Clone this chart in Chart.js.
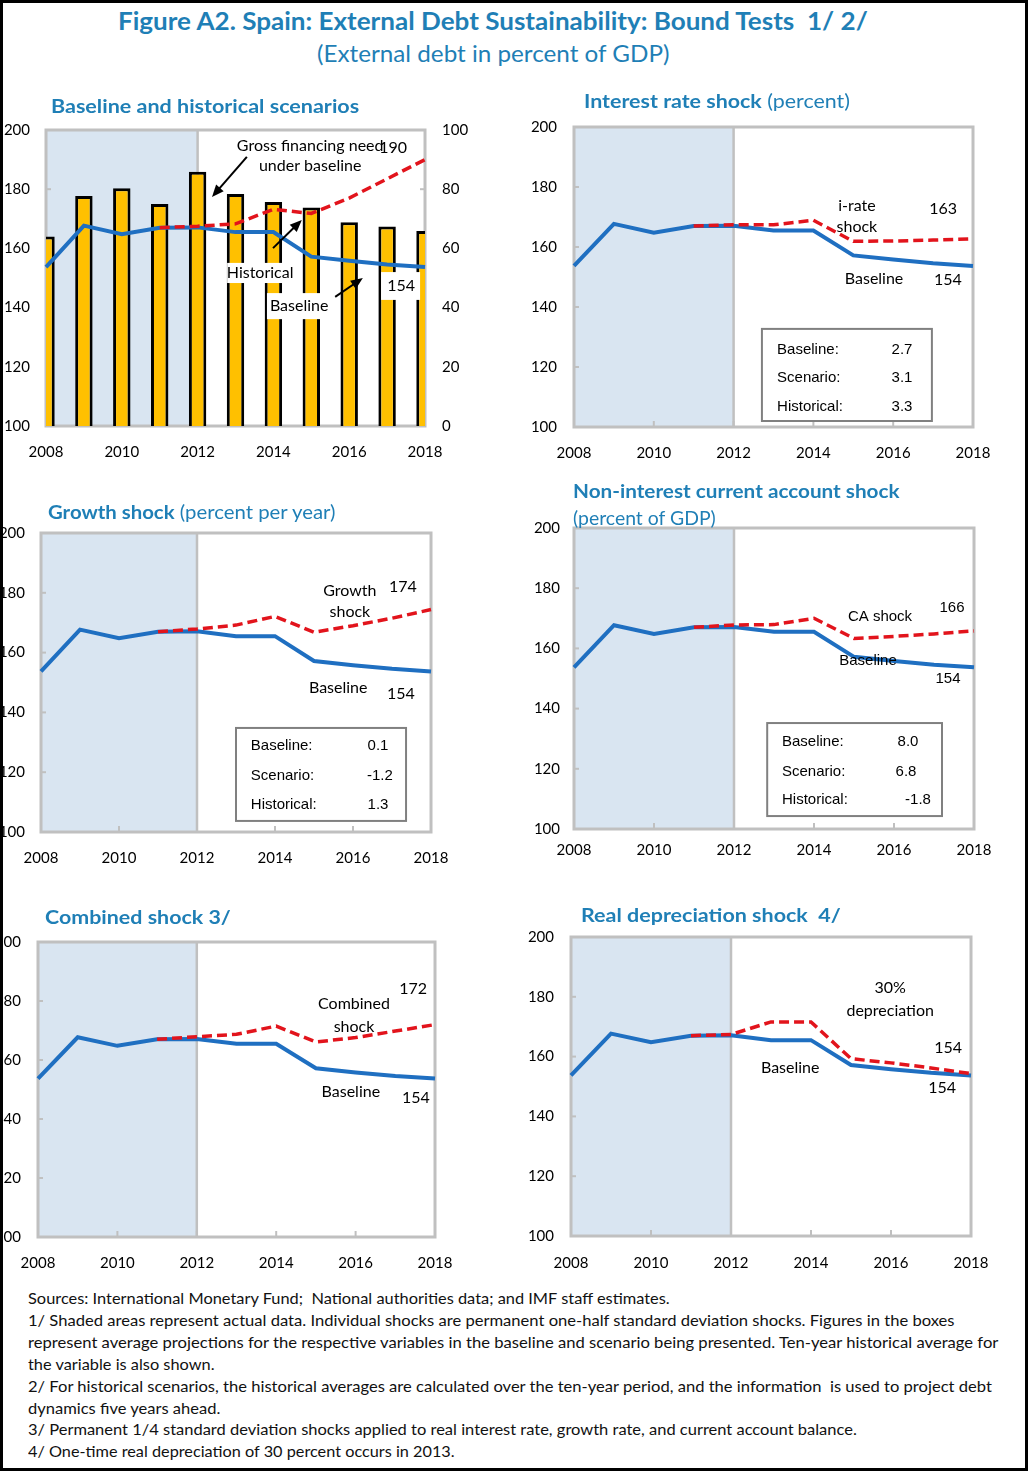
<!DOCTYPE html>
<html>
<head>
<meta charset="utf-8">
<script src="https://cdn.jsdelivr.net/npm/chart.js@4.4.1/dist/chart.umd.min.js"></script>
<style>
body { margin: 0; background: #fff; }
#page { position: relative; width: 1031px; height: 1473px; overflow: hidden; background: #fff; font-family: Lato, sans-serif; }
#frame { position: absolute; left: 0; top: 0; width: 1022px; height: 1465px; border: 3px solid #000; z-index: 5; pointer-events: none; }
canvas { position: absolute; }
.t { position: absolute; white-space: nowrap; transform-origin: 0 50%; z-index: 3; }
</style>
</head>
<body>
<div id="page"><div id="frame"></div></div>
<script>
// ---- data ----
const years = ['2008', '2009', '2010', '2011', '2012', '2013', '2014', '2015', '2016', '2017', '2018'];
const baseline = [153.7, 167.7, 164.8, 167.0, 167.1, 165.5, 165.5, 157.2, 155.8, 154.6, 153.7];
const grossFinancing = [64.0, 77.7, 80.3, 75.0, 85.9, 78.4, 75.7, 73.8, 68.8, 67.4, 65.9];
const historical = [null, null, null, 167.0, 167.5, 168.3, 173.2, 171.8, 177.0, 183.5, 190.0];
const interestShock = [null, null, null, 167.0, 167.4, 167.4, 168.9, 161.9, 162.0, 162.3, 162.7];
const growthShock = [null, null, null, 167.0, 167.9, 169.2, 172.1, 166.8, 169.0, 171.5, 174.4];
const caShock = [null, null, null, 167.0, 167.8, 167.9, 170.0, 163.3, 164.0, 164.8, 165.8];
const combinedShock = [null, null, null, 167.0, 167.9, 168.7, 171.5, 166.1, 167.6, 169.8, 172.0];
const depreciationShock = [null, null, null, 167.0, 167.4, 171.6, 171.6, 159.3, 157.9, 156.2, 154.3];

const boxLabels = ['Baseline:', 'Scenario:', 'Historical:'];
const interestBox = ['2.7', '3.1', '3.3'];
const growthBox = ['0.1', '-1.2', '1.3'];
const caBox = ['8.0', '6.8', '-1.8'];

const BLUE = '#1f6fc1', RED = '#e2141c', SHADE = '#d9e5f1', FRAME = '#c0c0c0', TITLE = '#1f7fb6';
const ANNO = '16px Lato, sans-serif', ARIAL = '15px "Liberation Sans", Arial, sans-serif';

Chart.defaults.font.family = 'Lato, sans-serif';
Chart.defaults.font.size = 15;
Chart.defaults.color = '#000';

const page = document.getElementById('page');

// year (fractional) -> pixel, via the category scale
const X = (chart, yr) => {
    const x = chart.scales.x;
    const p0 = x.getPixelForValue(0), p1 = x.getPixelForValue(1);
    return p0 + (yr - 2008) * (p1 - p0);
};
const Y = (chart, v) => chart.scales.y.getPixelForValue(v);

const line = (ctx, x1, y1, x2, y2) => {
    ctx.beginPath(); ctx.moveTo(x1, y1); ctx.lineTo(x2, y2); ctx.stroke();
};

const decor = {
    id: 'decor',
    beforeDatasetsDraw(chart, _args, o) {
        const { ctx, chartArea: a, scales } = chart;
        const xs = scales.x.getPixelForValue(o.shadeEnd);
        ctx.save();
        ctx.fillStyle = SHADE;
        ctx.fillRect(a.left, a.top, xs - a.left, a.bottom - a.top);
        ctx.strokeStyle = FRAME;
        ctx.lineWidth = 2.5;
        line(ctx, xs, a.top, xs, a.bottom);
        ctx.lineWidth = 2;
        for (let i = 2; i < years.length - 1; i += 2) {
            const px = scales.x.getPixelForValue(i);
            line(ctx, px, a.bottom, px, a.bottom - 6);
        }
        scales.y.ticks.forEach(t => {
            if (t.value > scales.y.min && t.value < scales.y.max) {
                const py = scales.y.getPixelForValue(t.value);
                line(ctx, a.left, py, a.left + 5, py);
            }
        });
        if (scales.y1) {
            scales.y1.ticks.forEach(t => {
                if (t.value > scales.y1.min && t.value < scales.y1.max) {
                    const py = scales.y1.getPixelForValue(t.value);
                    line(ctx, a.right, py, a.right - 5, py);
                }
            });
        }
        ctx.lineWidth = 3;
        ctx.strokeRect(a.left, a.top, a.right - a.left, a.bottom - a.top);
        ctx.restore();
    },
    afterDatasetsDraw(chart, _args, o) {
        const ctx = chart.ctx;
        ctx.save();
        ctx.textBaseline = 'middle';
        (o.masks || []).forEach(m => {
            ctx.fillStyle = '#fff';
            const x1 = X(chart, m.x1), x2 = X(chart, m.x2), y1 = Y(chart, m.y1), y2 = Y(chart, m.y2);
            ctx.fillRect(x1, y1, x2 - x1, y2 - y1);
        });
        (o.arrows || []).forEach(r => {
            const x1 = X(chart, r.x1), y1 = Y(chart, r.y1), x2 = X(chart, r.x2), y2 = Y(chart, r.y2);
            const ang = Math.atan2(y2 - y1, x2 - x1);
            ctx.strokeStyle = '#000'; ctx.fillStyle = '#000'; ctx.lineWidth = 2;
            line(ctx, x1, y1, x2 - 8 * Math.cos(ang), y2 - 8 * Math.sin(ang));
            ctx.beginPath();
            ctx.moveTo(x2, y2);
            ctx.lineTo(x2 - 12 * Math.cos(ang) + 5 * Math.sin(ang), y2 - 12 * Math.sin(ang) - 5 * Math.cos(ang));
            ctx.lineTo(x2 - 12 * Math.cos(ang) - 5 * Math.sin(ang), y2 - 12 * Math.sin(ang) + 5 * Math.cos(ang));
            ctx.closePath(); ctx.fill();
        });
        if (o.stats) {
            const s = o.stats;
            const x1 = X(chart, s.x1), x2 = X(chart, s.x2), y1 = Y(chart, s.y1), y2 = Y(chart, s.y2);
            ctx.fillStyle = '#fff';
            ctx.fillRect(x1, y1, x2 - x1, y2 - y1);
            ctx.strokeStyle = '#808080'; ctx.lineWidth = 2;
            ctx.strokeRect(x1, y1, x2 - x1, y2 - y1);
            ctx.fillStyle = '#000';
            ctx.font = ARIAL;
            boxLabels.forEach((lab, i) => {
                ctx.textAlign = 'left';
                ctx.fillText(lab, X(chart, s.labelX), Y(chart, s.rowY[i]));
                ctx.textAlign = 'center';
                ctx.fillText(s.values[i], X(chart, s.valueX[i]), Y(chart, s.rowY[i]));
            });
        }
        (o.labels || []).forEach(l => {
            ctx.font = l.font || ANNO;
            ctx.textAlign = 'center';
            ctx.fillStyle = '#000';
            ctx.fillText(l.t, X(chart, l.x), Y(chart, l.y));
        });
        ctx.restore();
    }
};

function makePanel(g, datasets, decorOpts, withRight) {
    const cv = document.createElement('canvas');
    const yw = 70, padTop = g.yPad + 12, xh = 40, rw = withRight ? 60 : 45;
    const w = (g.r - g.l) + yw + rw, h = (g.b - g.t) + padTop + xh;
    cv.width = w; cv.height = h;
    cv.style.left = (g.l - yw) + 'px';
    cv.style.top = (g.t - padTop) + 'px';
    cv.style.width = w + 'px';
    cv.style.height = h + 'px';
    page.appendChild(cv);
    const scales = {
        x: {
            type: 'category', offset: false,
            grid: { display: false, offset: false }, border: { display: false },
            ticks: { autoSkip: false, maxRotation: 0, padding: g.xPad, callback: (v, i) => (i % 2 === 0 ? years[i] : '') },
            afterFit: s => { s.height = xh; }
        },
        y: {
            position: 'left', min: 100, max: 200,
            grid: { display: false, drawTicks: false }, border: { display: false },
            ticks: { stepSize: 20, padding: g.yPad },
            afterFit: s => { s.width = yw; }
        }
    };
    if (withRight) {
        scales.y1 = {
            position: 'right', min: 0, max: 100,
            grid: { display: false, drawTicks: false }, border: { display: false },
            ticks: { stepSize: 20, padding: 17 },
            afterFit: s => { s.width = rw; }
        };
    }
    new Chart(cv, {
        type: 'line',
        data: { labels: years, datasets: datasets },
        options: {
            responsive: false, animation: false, devicePixelRatio: 1,
            layout: { padding: { top: padTop, right: withRight ? 0 : rw, left: 0, bottom: 0 } },
            plugins: { legend: { display: false }, tooltip: { enabled: false }, decor: decorOpts },
            scales: scales
        },
        plugins: [decor]
    });
}

const baseDs = () => ({ data: baseline, borderColor: BLUE, borderWidth: 4, pointRadius: 0, tension: 0 });
const shockDs = d => ({ data: d, borderColor: RED, borderWidth: 3.5, borderDash: [10, 5], pointRadius: 0, tension: 0, spanGaps: false });

// Panel 1: baseline and historical
makePanel({ l: 46, t: 130, r: 425, b: 426, yPad: 16, xPad: 9 },
    [shockDs(historical), baseDs(),
     { type: 'bar', data: grossFinancing, yAxisID: 'y1', backgroundColor: '#ffc000', borderColor: '#000',
       borderWidth: 3, barPercentage: 0.46, categoryPercentage: 1, clip: 0 }],
    {
        shadeEnd: 4,
        masks: [
            { x1: 2012.78, x2: 2014.52, y1: 155.1, y2: 148.3 },
            { x1: 2013.83, x2: 2015.55, y1: 144.9, y2: 136.1 },
            { x1: 2016.84, x2: 2017.87, y1: 152.0, y2: 142.6 }
        ],
        arrows: [
            { x1: 2013.30, y1: 190.9, x2: 2012.38, y2: 177.4 },
            { x1: 2013.99, y1: 160.1, x2: 2014.75, y2: 169.6 },
            { x1: 2015.63, y1: 143.6, x2: 2016.36, y2: 150.0 }
        ],
        labels: [
            { t: 'Gross financing need', x: 2014.97, y: 194.6 },
            { t: 'under baseline', x: 2014.97, y: 187.8 },
            { t: '190', x: 2017.16, y: 193.9 },
            { t: 'Historical', x: 2013.65, y: 151.7 },
            { t: 'Baseline', x: 2014.68, y: 140.5 },
            { t: '154', x: 2017.37, y: 147.2 }
        ]
    }, true);

// Panel 2: interest rate shock
makePanel({ l: 574, t: 127, r: 973, b: 427, yPad: 17, xPad: 9 },
    [shockDs(interestShock), baseDs()],
    {
        shadeEnd: 4,
        stats: { x1: 2012.71, x2: 2016.97, y1: 132.7, y2: 102.0, labelX: 2013.09,
                 valueX: [2016.22, 2016.22, 2016.22], rowY: [125.7, 116.3, 106.7], values: interestBox },
        labels: [
            { t: 'i-rate', x: 2015.09, y: 173.7 },
            { t: 'shock', x: 2015.09, y: 166.7 },
            { t: '163', x: 2017.25, y: 172.7 },
            { t: 'Baseline', x: 2015.52, y: 149.3 },
            { t: '154', x: 2017.37, y: 149.0 }
        ]
    }, false);

// Panel 3: growth shock
makePanel({ l: 41, t: 533, r: 431, b: 832, yPad: 16, xPad: 9 },
    [shockDs(growthShock), baseDs()],
    {
        shadeEnd: 4,
        stats: { x1: 2013.0, x2: 2017.36, y1: 134.8, y2: 103.7, labelX: 2013.38,
                 valueX: [2016.64, 2016.69, 2016.64], rowY: [128.8, 118.7, 109.0], values: growthBox },
        labels: [
            { t: 'Growth', x: 2015.92, y: 180.6 },
            { t: 'shock', x: 2015.92, y: 173.6 },
            { t: '174', x: 2017.28, y: 181.9 },
            { t: 'Baseline', x: 2015.62, y: 148.2 },
            { t: '154', x: 2017.23, y: 146.2 }
        ]
    }, false);

// Panel 4: non-interest current account shock
makePanel({ l: 574, t: 528, r: 974, b: 829, yPad: 14, xPad: 4 },
    [shockDs(caShock), baseDs()],
    {
        shadeEnd: 4,
        stats: { x1: 2012.83, x2: 2017.2, y1: 135.2, y2: 104.3, labelX: 2013.2,
                 valueX: [2016.35, 2016.3, 2016.6], rowY: [128.9, 118.9, 109.6], values: caBox },
        labels: [
            { t: 'CA shock', x: 2015.65, y: 170.4, font: ARIAL },
            { t: '166', x: 2017.45, y: 173.4, font: ARIAL },
            { t: 'Baseline', x: 2015.35, y: 155.8, font: ARIAL },
            { t: '154', x: 2017.35, y: 149.8, font: ARIAL }
        ]
    }, false);

// Panel 5: combined shock
makePanel({ l: 38, t: 942, r: 435, b: 1237, yPad: 17, xPad: 9 },
    [shockDs(combinedShock), baseDs()],
    {
        shadeEnd: 4,
        labels: [
            { t: 'Combined', x: 2015.96, y: 179.0 },
            { t: 'shock', x: 2015.96, y: 171.2 },
            { t: '172', x: 2017.45, y: 184.1 },
            { t: 'Baseline', x: 2015.88, y: 149.2 },
            { t: '154', x: 2017.52, y: 147.1 }
        ]
    }, false);

// Panel 6: real depreciation shock
makePanel({ l: 571, t: 937, r: 971, b: 1236, yPad: 17, xPad: 10 },
    [shockDs(depreciationShock), baseDs()],
    {
        shadeEnd: 4,
        labels: [
            { t: '30%', x: 2015.98, y: 182.9 },
            { t: 'depreciation', x: 2015.98, y: 175.3 },
            { t: '154', x: 2017.43, y: 162.9 },
            { t: 'Baseline', x: 2013.48, y: 156.2 },
            { t: '154', x: 2017.28, y: 149.5 }
        ]
    }, false);

// ---- titles and notes ----
const texts = [
    { s: '<b>Figure A2. Spain: External Debt Sustainability: Bound Tests&nbsp; 1/ 2/</b>', x: 118, y: 20, size: 25, w: 750, c: TITLE },
    { s: '(External debt in percent of GDP)', x: 317, y: 53, size: 23, w: 353, c: TITLE },
    { s: '<b>Baseline and historical scenarios</b>', x: 51, y: 106, size: 19, w: 308, c: TITLE },
    { s: '<b>Interest rate shock</b> (percent)', x: 584, y: 101, size: 19, w: 266, c: TITLE },
    { s: '<b>Growth shock</b> (percent per year)', x: 48, y: 512, size: 19, w: 287, c: TITLE },
    { s: '<b>Non-interest current account shock</b>', x: 573, y: 491, size: 19, w: 327, c: TITLE },
    { s: '(percent of GDP)', x: 573, y: 518, size: 19, w: 143, c: TITLE },
    { s: '<b>Combined shock 3/</b>', x: 45, y: 917, size: 19, w: 186, c: TITLE },
    { s: '<b>Real depreciation shock&nbsp; 4/</b>', x: 581, y: 915, size: 19, w: 260, c: TITLE }
];
const notes = [
    ['Sources: International Monetary Fund;&nbsp; National authorities data; and IMF staff estimates.', 642],
    ['1/ Shaded areas represent actual data. Individual shocks are permanent one-half standard deviation shocks. Figures in the boxes', 927],
    ['represent average projections for the respective variables in the baseline and scenario being presented. Ten-year historical average for', 970],
    ['the variable is also shown.', 187],
    ['2/ For historical scenarios, the historical averages are calculated over the ten-year period, and the information&nbsp; is used to project debt', 964],
    ['dynamics five years ahead.', 192],
    ['3/ Permanent 1/4 standard deviation shocks applied to real interest rate, growth rate, and current account balance.', 829],
    ['4/ One-time real depreciation of 30 percent occurs in 2013.', 427]
];
notes.forEach((n, i) => texts.push({ s: n[0], x: 28, y: 1298 + i * 21.9, size: 16, w: n[1], c: '#111' }));

const els = texts.map(t => {
    const d = document.createElement('div');
    d.className = 't';
    d.innerHTML = t.s;
    const lh = Math.round(t.size * 1.25);
    d.style.fontSize = t.size + 'px';
    d.style.lineHeight = lh + 'px';
    d.style.color = t.c;
    d.style.left = t.x + 'px';
    d.style.top = (t.y - lh / 2) + 'px';
    page.appendChild(d);
    return [d, t.w];
});
const fit = () => els.forEach(([d, w]) => { d.style.transform = 'scaleX(' + (w / d.offsetWidth) + ')'; });
fit();
if (document.fonts) document.fonts.ready.then(fit);
</script>
</body>
</html>
